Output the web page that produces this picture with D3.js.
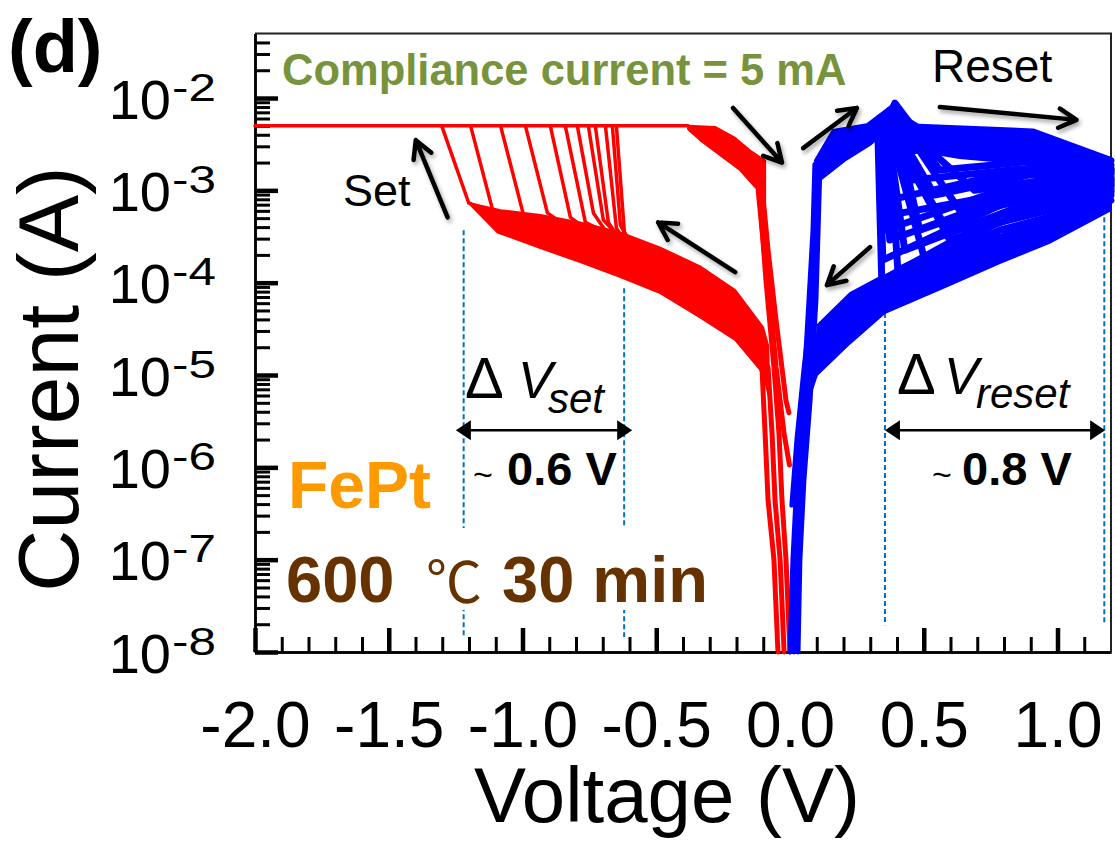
<!DOCTYPE html>
<html>
<head>
<meta charset="utf-8">
<script src="https://cdn.jsdelivr.net/npm/d3@7"></script>
<style>
  body { margin: 0; background: #fff; }
  svg { display: block; font-family: "Liberation Sans", Arial, sans-serif; }
</style>
</head>
<body>
<svg id="chart" width="1115" height="841"></svg>
<script>
// ---------- axis ticks ----------
const voltageTicks = [-2.0, -1.5, -1.0, -0.5, 0.0, 0.5, 1.0];
const currentDecades = [1e-8, 1e-7, 1e-6, 1e-5, 1e-4, 1e-3, 1e-2];
const complianceCurrent = 5e-3;   // A

// ---------- negative sweep (set), red ----------
const setCompliance = [[-2.0, complianceCurrent], [-0.381, complianceCurrent]];
// HRS band envelope (upper / lower), left to right
const setHrsUpper = [[-1.201, 7.3e-4], [-1.082, 6.1e-4], [-0.933, 5.4e-4], [-0.784, 4.5e-4], [-0.634, 3.5e-4],
                     [-0.485, 2.4e-4], [-0.336, 1.5e-4], [-0.205, 8.3e-5], [-0.101, 3.3e-5], [-0.082, 2.1e-5]];
const setHrsLower = [[-1.093, 3.5e-4], [-0.933, 2.37e-4], [-0.784, 1.67e-4], [-0.634, 1.15e-4], [-0.485, 7.7e-5],
                     [-0.336, 4.2e-5], [-0.205, 2.4e-5], [-0.101, 1.05e-5], [-0.075, 5.3e-6]];
// LRS return band from compliance back toward 0 V
const setLrsUpper = [[-0.381, 5.0e-3], [-0.280, 4.86e-3], [-0.205, 3.7e-3], [-0.149, 2.7e-3], [-0.093, 2.1e-3]];
const setLrsLower = [[-0.381, 4.6e-3], [-0.336, 3.5e-3], [-0.261, 2.4e-3], [-0.187, 1.66e-3], [-0.119, 1.0e-3], [-0.093, 7.8e-4]];
// individual set transitions (HRS -> compliance)
const setCycles = [
  [[-0.933, 4.2e-4], [-1.093, 5.4e-4], [-1.201, 7.3e-4], [-1.302, 5e-3]],
  [[-0.802, 2.15e-4], [-0.933, 2.75e-4], [-1.093, 3.8e-4], [-1.194, 5e-3]],
  [[-0.858, 3.5e-4], [-0.989, 4.5e-4], [-1.082, 5e-3]],
  [[-0.784, 3.2e-4], [-0.907, 5.7e-4], [-0.989, 5e-3]],
  [[-0.709, 2.9e-4], [-0.821, 5.1e-4], [-0.896, 5e-3]],
  [[-0.672, 3.3e-4], [-0.765, 4.5e-4], [-0.840, 5e-3]],
  [[-0.653, 2.55e-4], [-0.735, 5.7e-4], [-0.795, 5e-3]],
  [[-0.634, 3.0e-4], [-0.698, 4.8e-4], [-0.754, 5e-3]],
  [[-0.616, 2.4e-4], [-0.679, 4.5e-4], [-0.728, 5e-3]],
  [[-0.597, 2.25e-4], [-0.649, 3.9e-4], [-0.690, 5e-3]],
  [[-0.578, 2.15e-4], [-0.634, 4.2e-4], [-0.664, 5e-3]],
  [[-0.560, 2.0e-4], [-0.619, 3.5e-4], [-0.649, 5e-3]]
];
// strands close to 0 V
const setNearZero = [
  [[-0.045, 1e-8], [-0.060, 1e-7], [-0.082, 4.4e-7], [-0.093, 2.3e-6], [-0.105, 1.22e-5], [-0.105, 2.4e-5]],
  [[-0.022, 1e-8], [-0.037, 1e-7], [-0.056, 4.4e-7], [-0.067, 2.3e-6], [-0.082, 1.22e-5]],
  [[-0.119, 1.0e-3], [-0.097, 2.25e-4], [-0.075, 6.5e-5], [-0.052, 1.22e-5], [-0.022, 2.3e-6], [-0.002, 1.06e-6]],
  [[-0.105, 1.14e-3], [-0.082, 2.25e-4], [-0.052, 3.9e-5], [-0.015, 5.3e-6], [-0.004, 3.9e-6]],
  [[-0.112, 7.8e-4], [-0.090, 1.07e-4], [-0.060, 1.22e-5], [-0.041, 2.3e-6], [-0.030, 4.4e-7], [-0.015, 1e-7], [0.0, 1e-8]]
];

// ---------- positive sweep (reset), blue ----------
const resetRise = [
  [[0.0, 1e-8], [0.011, 1e-7], [0.026, 7.3e-7], [0.049, 5.3e-6], [0.071, 6.5e-5], [0.086, 3.7e-4], [0.093, 1.9e-3]],
  [[0.015, 1e-8], [0.026, 1e-7], [0.037, 7.3e-7], [0.060, 5.3e-6], [0.082, 6.5e-5], [0.097, 4.8e-4], [0.105, 1.9e-3]],
  [[0.030, 1e-8], [0.037, 1e-7], [0.052, 7.3e-7], [0.075, 5.3e-6], [0.097, 6.5e-5], [0.105, 3.7e-4], [0.112, 1.9e-3]],
  [[0.007, 3.9e-7], [0.026, 2.0e-6], [0.052, 1.13e-5], [0.082, 6.5e-5]]
];
const resetLrsUpper = [[0.093, 2.1e-3], [0.160, 4.5e-3], [0.287, 5.2e-3], [0.392, 8.8e-3]];
const resetLrsLower = [[0.112, 1.29e-3], [0.205, 2.1e-3], [0.299, 3.1e-3], [0.343, 4.0e-3]];
// dense upper part of the reset fan
const resetFanUpper = [[0.351, 6.1e-3], [0.392, 8.8e-3], [0.459, 4.86e-3], [0.907, 4.3e-3], [1.2, 2.1e-3]];
const resetFanLower = [[0.392, 3.5e-3], [0.467, 2.7e-3], [0.634, 2.24e-3], [0.933, 1.88e-3], [1.2, 1.36e-3]];
const resetCycles = [
  [[0.336, 4.0e-3], [0.392, 8.8e-3], [0.459, 4.86e-3], [0.907, 4.3e-3], [1.2, 2.1e-3]],
  [[0.336, 4.0e-3], [0.373, 7.4e-3], [0.522, 4.0e-3], [0.896, 3.5e-3], [1.2, 1.88e-3]],
  [[0.328, 5.1e-3], [0.351, 6.1e-3], [0.410, 2.7e-3], [0.634, 2.7e-3], [1.2, 1.66e-3]],
  [[0.328, 5.1e-3], [0.343, 5.8e-3], [0.366, 7.8e-4], [0.784, 1.47e-3], [1.2, 1.58e-3]],
  [[0.325, 4.7e-3], [0.336, 5.1e-3], [0.354, 3.7e-4], [0.784, 1.0e-3], [1.2, 1.36e-3]],
  [[0.321, 4.5e-3], [0.332, 4.7e-3], [0.347, 1.76e-4], [0.784, 6.9e-4], [1.2, 1.14e-3]],
  [[0.321, 4.5e-3], [0.328, 4.7e-3], [0.343, 1.07e-4], [0.784, 5.4e-4], [1.2, 9.6e-4]],
  [[0.336, 6.1e-3], [0.373, 7.0e-3], [0.448, 1.29e-3], [0.896, 1.74e-3], [1.2, 1.66e-3]],
  [[0.354, 6.3e-3], [0.392, 7.4e-3], [0.560, 1.66e-3], [0.933, 2.1e-3], [1.2, 1.74e-3]],
  [[0.343, 5.8e-3], [0.384, 7.8e-3], [0.485, 3.7e-4], [0.858, 8.9e-4], [1.2, 1.29e-3]],
  [[0.328, 5.2e-3], [0.358, 6.4e-3], [0.429, 2.25e-4], [0.821, 6.1e-4], [1.2, 1.06e-3]],
  [[0.336, 5.5e-3], [0.366, 6.7e-3], [0.403, 1.37e-4], [0.784, 4.5e-4], [1.2, 8.9e-4]],
  [[0.351, 6.1e-3], [0.381, 7.4e-3], [0.634, 6.1e-4], [0.970, 1.14e-3], [1.2, 1.36e-3]],
  [[0.336, 5.8e-3], [0.362, 6.9e-3], [0.541, 8.9e-4], [0.896, 1.47e-3], [1.2, 1.54e-3]],
  [[0.325, 4.86e-3], [0.340, 5.4e-3], [0.373, 2.9e-4], [0.784, 7.8e-4], [1.2, 1.2e-3]],
  [[0.332, 5.1e-3], [0.351, 6.1e-3], [0.597, 2.9e-4], [0.970, 6.9e-4], [1.2, 1.0e-3]],
  [[0.328, 4.9e-3], [0.347, 5.8e-3], [0.373, 5.4e-4], [0.784, 8.9e-4], [1.2, 1.25e-3]],
  [[0.336, 5.2e-3], [0.358, 6.3e-3], [0.504, 1.76e-4], [0.784, 3.7e-4], [1.2, 7.8e-4]],
  [[0.332, 4.9e-3], [0.354, 6.1e-3], [0.578, 4.2e-4], [0.896, 8.9e-4], [1.2, 1.14e-3]],
  [[0.340, 5.5e-3], [0.369, 6.9e-3], [0.690, 1.0e-3], [1.007, 1.36e-3], [1.2, 1.47e-3]]
];
// HRS return band from 1.2 V back to 0 V
const resetHrsUpper = [[0.104, 3.5e-5], [0.224, 7.7e-5], [0.336, 1.15e-4], [0.560, 2.0e-4], [0.784, 3.3e-4], [1.007, 6.1e-4], [1.2, 1.14e-3]];
const resetHrsLower = [[0.082, 6.9e-6], [0.101, 1.0e-5], [0.224, 2.2e-5], [0.354, 4.7e-5], [0.597, 9.4e-5], [0.784, 1.63e-4], [0.970, 2.7e-4], [1.2, 6.1e-4]];

// ---------- annotation anchors (V, A) ----------
const setWindow = [-1.22, -0.62];          // dashed guides for ΔVset
const resetWindow = [0.355, 1.175];        // dashed guides for ΔVreset
const setGuideTops = [3.7e-4, 8.7e-5];
const resetGuideTops = [4.7e-5, 5.1e-4];
const arrows = [
  [[-1.280, 5.1e-4], [-1.399, 3.5e-3]],
  [[-0.213, 7.8e-3], [-0.030, 2.0e-3]],
  [[0.049, 2.87e-3], [0.250, 7.8e-3]],
  [[0.560, 8.0e-3], [1.071, 5.8e-3]],
  [[0.299, 2.43e-4], [0.138, 9.4e-5]],
  [[-0.205, 1.3e-4], [-0.493, 4.5e-4]]
];

// ---------- scales ----------
const svg = d3.select("#chart");
const x = d3.scaleLinear().domain([-2.0, 1.2]).range([255, 1111]);
const y = d3.scaleLog().domain([1e-8, 5e-2]).range([652, 33.5]);
const line = d3.line().x(d => x(d[0])).y(d => y(d[1]));
const closedLine = d3.line().x(d => x(d[0])).y(d => y(d[1])).curve(d3.curveLinearClosed);
const band = (upper, lower) => closedLine(upper.concat(lower.slice().reverse()));

const RED = "#ff0000", BLUE = "#0000ff";
const FONT = "'Liberation Sans', Arial, sans-serif";

// ---------- axes ----------
const minorV = d3.range(-19, 12).map(k => k / 10).filter(v => Math.abs(v * 2 - Math.round(v * 2)) > 1e-6);
const minorI = [];
[-8, -7, -6, -5, -4, -3, -2].forEach(e => {
  for (let k = 2; k <= 9; k++) {
    const v = k * Math.pow(10, e);
    if (v < 5e-2) minorI.push(v);
  }
});

const axes = svg.append("g");
const xMinor = axes.append("g").attr("transform", "translate(0,652)")
  .call(d3.axisBottom(x).tickValues(minorV).tickSize(-15).tickSizeOuter(0).tickFormat(""));
const xMajor = axes.append("g").attr("transform", "translate(0,652)")
  .call(d3.axisBottom(x).tickValues(voltageTicks).tickSize(-24).tickSizeOuter(0)
        .tickFormat(d => d.toFixed(1)));
const yMinor = axes.append("g").attr("transform", "translate(255,0)")
  .call(d3.axisLeft(y).tickValues(minorI).tickSize(-15).tickSizeOuter(0).tickFormat(""));
const yMajor = axes.append("g").attr("transform", "translate(255,0)")
  .call(d3.axisLeft(y).tickValues(currentDecades).tickSize(-23).tickSizeOuter(0).tickFormat(""));

[xMinor, yMinor].forEach(g => g.selectAll(".tick line").attr("stroke", "#000").attr("stroke-width", 3));
[xMajor, yMajor].forEach(g => g.selectAll(".tick line").attr("stroke", "#000").attr("stroke-width", 4.5));
axes.selectAll(".domain").attr("stroke", "#000").attr("stroke-width", 2.5);

xMajor.selectAll(".tick text")
  .attr("y", 0).attr("dy", 95)
  .attr("font-size", 64).attr("fill", "#000")
  .attr("font-family", FONT);

// decade labels: "10" with a raised exponent
yMajor.selectAll(".tick").each(function (d) {
  const g = d3.select(this);
  g.append("text")
    .attr("x", -84).attr("dy", 20)
    .attr("text-anchor", "end").attr("fill", "#000")
    .attr("font-family", FONT).attr("font-size", 56)
    .text("10");
  g.append("text")
    .attr("transform", "translate(-83,2) scale(1.3,1)")
    .attr("text-anchor", "start")
    .attr("fill", "#000").attr("font-family", FONT).attr("font-size", 38)
    .text(String(Math.round(Math.log10(d))));
});

// frame (top / right)
svg.append("path")
  .attr("d", `M${x(-2.0)},${y(5e-2)}H${x(1.2)}V${y(1e-8)}`)
  .attr("fill", "none").attr("stroke", "#222").attr("stroke-width", 2);

// ---------- dashed guides ----------
const guides = svg.append("g").attr("stroke", "#0070c0").attr("stroke-width", 2)
  .attr("stroke-dasharray", "5,3").attr("fill", "none");
setWindow.forEach((v, i) => guides.append("path").attr("d", line([[v, setGuideTops[i]], [v, 1.45e-8]])));
resetWindow.forEach((v, i) => guides.append("path").attr("d", line([[v, resetGuideTops[i]], [v, 1.95e-8]])));

// ---------- red curves ----------
const red = svg.append("g").attr("stroke", RED).attr("stroke-linejoin", "round").attr("stroke-linecap", "round");
red.append("path").attr("d", band(setHrsUpper, setHrsLower)).attr("fill", RED).attr("stroke-width", 2);
red.append("path").attr("d", band(setLrsUpper, setLrsLower)).attr("fill", RED).attr("stroke-width", 2);
red.append("path").attr("d", line(setCompliance)).attr("fill", "none").attr("stroke-width", 3.5);
setCycles.forEach(c => red.append("path").attr("d", line(c)).attr("fill", "none").attr("stroke-width", 3.5));
setNearZero.forEach(c => red.append("path").attr("d", line(c)).attr("fill", "none").attr("stroke-width", 5));

// ---------- blue curves ----------
const blue = svg.append("g").attr("stroke", BLUE).attr("stroke-linejoin", "round").attr("stroke-linecap", "round");
blue.append("path").attr("d", band(resetHrsUpper, resetHrsLower)).attr("fill", BLUE).attr("stroke-width", 2);
blue.append("path").attr("d", band(resetLrsUpper, resetLrsLower)).attr("fill", BLUE).attr("stroke-width", 2);
blue.append("path").attr("d", band(resetFanUpper, resetFanLower)).attr("fill", BLUE).attr("stroke-width", 2);
resetCycles.forEach(c => blue.append("path").attr("d", line(c)).attr("fill", "none").attr("stroke-width", 7));
resetRise.forEach(c => blue.append("path").attr("d", line(c)).attr("fill", "none").attr("stroke-width", 5));

// ---------- arrows ----------
const defs = svg.append("defs");
const sh = defs.append("filter").attr("id", "shadow").attr("x", "-30%").attr("y", "-30%").attr("width", "160%").attr("height", "160%");
sh.append("feDropShadow").attr("dx", 2).attr("dy", 3).attr("stdDeviation", 2)
  .attr("flood-color", "#000").attr("flood-opacity", 0.35);

const arrowG = svg.append("g").attr("stroke", "#000").attr("stroke-width", 4.5)
  .attr("fill", "none").attr("stroke-linecap", "round").attr("stroke-linejoin", "round")
  .attr("filter", "url(#shadow)");
arrows.forEach(([p0, p1]) => {
  const x0 = x(p0[0]), y0 = y(p0[1]), x1 = x(p1[0]), y1 = y(p1[1]);
  const a = Math.atan2(y1 - y0, x1 - x0), L = 20, w = 0.5;
  arrowG.append("path").attr("d",
    `M${x0},${y0}L${x1},${y1}` +
    `M${x1 - L * Math.cos(a - w)},${y1 - L * Math.sin(a - w)}L${x1},${y1}L${x1 - L * Math.cos(a + w)},${y1 - L * Math.sin(a + w)}`);
});

// double-headed span arrows
function span(v0, v1, iy) {
  const x0 = x(v0), x1 = x(v1), yy = y(iy), L = 15, h = 10;
  const g = svg.append("g");
  g.append("line").attr("x1", x0 + 6).attr("x2", x1 - 6).attr("y1", yy).attr("y2", yy)
    .attr("stroke", "#000").attr("stroke-width", 2.5);
  g.append("path").attr("d", `M${x0},${yy}L${x0 + L},${yy - h}L${x0 + L},${yy + h}Z`).attr("fill", "#000");
  g.append("path").attr("d", `M${x1},${yy}L${x1 - L},${yy - h}L${x1 - L},${yy + h}Z`).attr("fill", "#000");
}
span(-1.249, -0.590, 2.53e-6);
span(0.355, 1.178, 2.53e-6);

// ---------- text ----------
const T = (sx, sy, str, size, opts = {}) => {
  const t = svg.append("text").attr("x", sx).attr("y", sy).attr("font-size", size)
    .attr("fill", opts.fill || "#000").text(str);
  if (opts.weight) t.attr("font-weight", opts.weight);
  if (opts.anchor) t.attr("text-anchor", opts.anchor);
  return t;
};

T(8, 72, "(d)", 74, { weight: "bold" });
T(282, 85, "Compliance current = 5 mA", 43.5, { weight: "bold", fill: "#77933c" });
T(932, 82, "Reset", 46);
T(343, 206, "Set", 45);

// ΔV labels
const dset = svg.append("text").attr("y", 398).attr("font-size", 52);
dset.append("tspan").attr("x", 465).attr("font-size", 58).text("Δ");
dset.append("tspan").attr("x", 518).attr("font-style", "italic").text("V");
dset.append("tspan").attr("x", 548).attr("y", 413).attr("font-size", 42).attr("font-style", "italic").text("set");
const dres = svg.append("text").attr("y", 394).attr("font-size", 52);
dres.append("tspan").attr("x", 897).attr("font-size", 58).text("Δ");
dres.append("tspan").attr("x", 944).attr("font-style", "italic").text("V");
dres.append("tspan").attr("x", 976).attr("y", 408).attr("font-size", 42).attr("font-style", "italic").text("reset");

T(473, 486, "~", 34);
T(507, 485, "0.6 V", 47, { weight: "bold" });
T(932, 486, "~", 34);
T(962, 485, "0.8 V", 47, { weight: "bold" });

T(288, 508, "FePt", 66, { weight: "bold", fill: "#ff9900" });
svg.append("rect").attr("x", 440).attr("y", 528).attr("width", 200).attr("height", 82).attr("fill", "#fff");
const temp = svg.append("text").attr("y", 602).attr("fill", "#663300").attr("font-size", 65).attr("font-weight", "bold");
temp.append("tspan").attr("x", 286).text("600");
temp.append("tspan").attr("x", 426).attr("font-weight", "normal").attr("font-size", 56)
  .attr("font-family", "'Noto Sans CJK SC', sans-serif").text("℃");
temp.append("tspan").attr("x", 502).text("30 min");

// axis titles
T(667, 822, "Voltage (V)", 78, { anchor: "middle" });
svg.append("text").attr("transform", "translate(78,379) rotate(-90)")
  .attr("text-anchor", "middle").attr("font-size", 86).text("Current (A)");
</script>
</body>
</html>
